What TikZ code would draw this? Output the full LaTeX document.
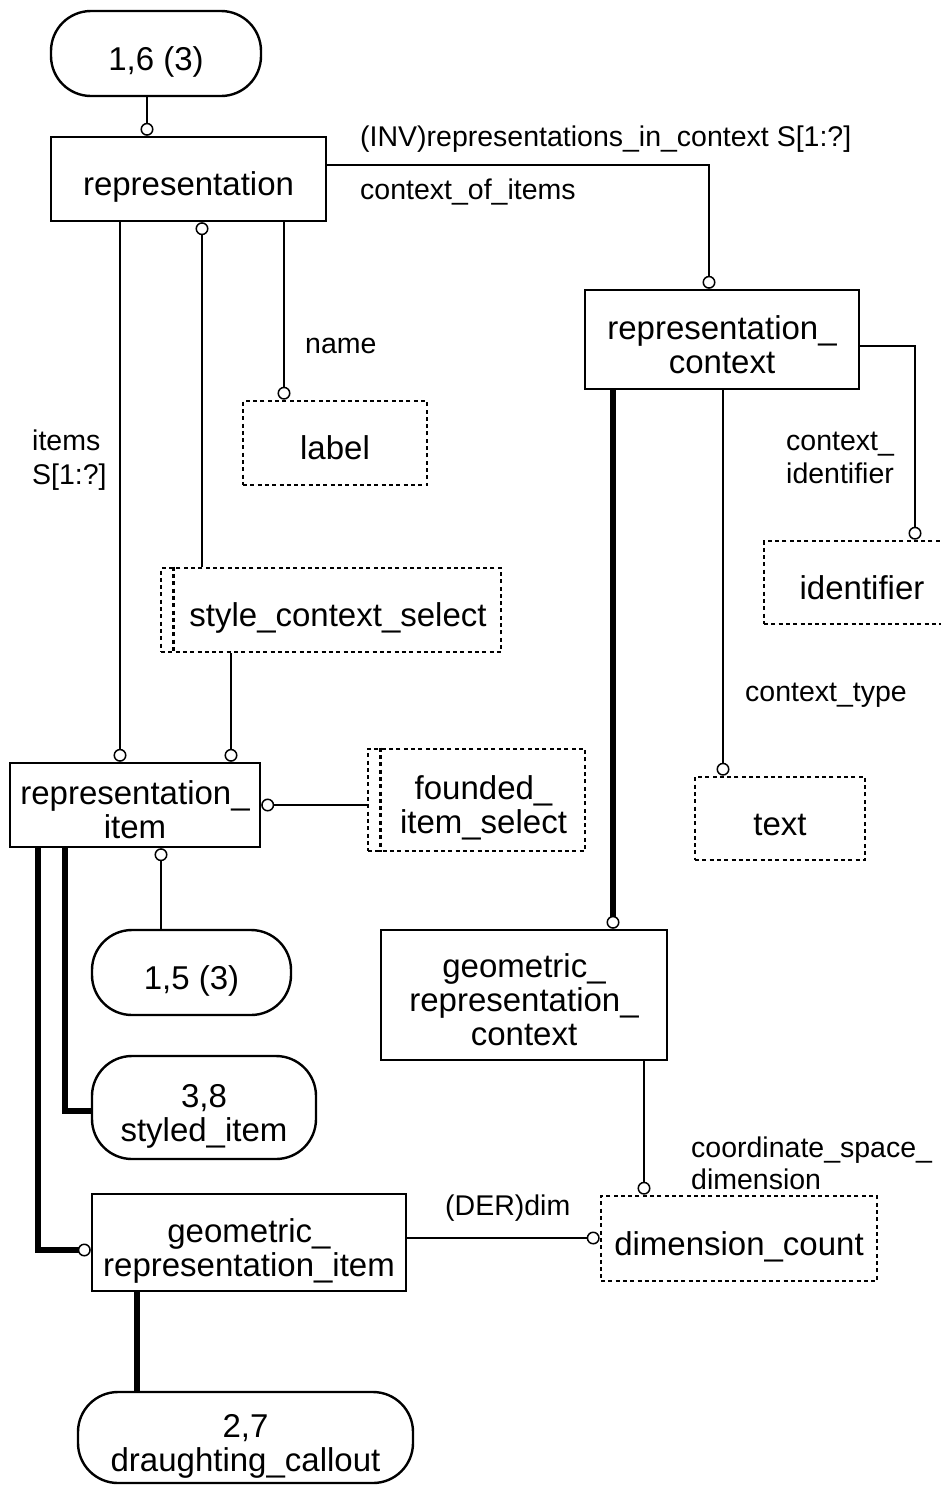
\documentclass[tikz,border=0pt]{standalone}
\usepackage{fontspec}
\setmainfont{Liberation Sans}
\usetikzlibrary{arrows.meta}
\newcommand\bxfont{\fontsize{33}{34}\selectfont}
\newcommand\lbfont{\fontsize{28.5}{33}\selectfont}
\newcommand\mlc[1]{\vtop{\baselineskip=34pt\halign{\hfil##\hfil\cr#1\crcr}}}
\newcommand\mll[2]{\vtop{\baselineskip=#1\halign{##\hfil\cr#2\crcr}}}
\tikzset{oc/.tip={Circle[length=13pt, width=13pt, fill=white, line width=1.5pt]}}
\begin{document}
\begin{tikzpicture}[x=1pt,y=-1pt,
  ent/.style={draw, line width=2.4pt, inner sep=0pt, font=\bxfont},
  dsh/.style={draw, line width=2.6pt, dash pattern=on 4pt off 3.3pt},
  sel/.style={ent, dsh},
  pil/.style={ent, rounded corners=40pt},
  l1/.style={text height=33pt, text depth=0pt},
  l2/.style={text height=20pt, text depth=21pt},
  l3/.style={text height=10pt, text depth=45pt},
  conn/.style={line width=2pt},
  thk/.style={line width=6.5pt},
  lab/.style={font=\lbfont, anchor=base west, inner sep=0pt}
]
\useasboundingbox (0,0) rectangle (940,1486);

% entities
\node[pil,l1,minimum width=210pt,minimum height=85pt] (p16) at (156,53.5) {1,6 (3)};
\node[ent,l1,minimum width=275pt,minimum height=84pt] (rep) at (188.5,179) {representation};
\node[ent,l2,minimum width=274pt,minimum height=99pt] (repctx) at (722,339.5) {\mlc{representation\_\cr context}};
\node[sel,l1,minimum width=184pt,minimum height=84pt] (lbl) at (335,443) {label};
\node[sel,l1,minimum width=340pt,minimum height=84pt] (scs) at (331,610) {\kern14pt style\_context\_select};
\node[sel,l1,minimum width=196pt,minimum height=83pt] (ident) at (862,582.5) {identifier};
\node[sel,l1,minimum width=170pt,minimum height=83pt] (txt) at (780,818.5) {text};
\node[ent,l2,minimum width=250pt,minimum height=84pt] (ritem) at (135,805) {\mlc{representation\_\cr item}};
\node[sel,l2,minimum width=217pt,minimum height=102pt] (fis) at (476.5,800) {\kern14pt\mlc{founded\_\cr item\_select}};
\node[pil,l1,minimum width=199pt,minimum height=85pt] (p15) at (191.5,972.5) {1,5 (3)};
\node[ent,l3,minimum width=286pt,minimum height=130pt] (grc) at (524,995) {\mlc{geometric\_\cr representation\_\cr context}};
\node[pil,l2,minimum width=224pt,minimum height=103pt] (p38) at (204,1107.5) {\mlc{3,8\cr styled\_item}};
\node[ent,l2,minimum width=314pt,minimum height=97pt] (gri) at (249,1242.5) {\mlc{geometric\_\cr representation\_item}};
\node[sel,l1,minimum width=276pt,minimum height=85pt] (dimc) at (739,1238.5) {dimension\_count};
\node[pil,l2,minimum width=335pt,minimum height=91pt] (p27) at (245.5,1437.5) {\mlc{2,7\cr draughting\_callout}};

% select-type inner lines
\draw[dsh] ([xshift=14pt]scs.north west) -- ([xshift=14pt]scs.south west);
\draw[dsh] ([xshift=14pt]fis.north west) -- ([xshift=14pt]fis.south west);

% connectors
\draw[conn,-{oc}] ([xshift=-9pt]p16.south) coordinate (c1) -- (c1 |- rep.north);
\draw[conn,-{oc}] ([yshift=14pt]rep.east) -| ([xshift=-13pt]repctx.north);
\draw[conn,-{oc}] ([xshift=-68.5pt]rep.south) coordinate (c2) -- (c2 |- ritem.north);
\draw[conn,{oc}-] ([xshift=13.5pt]rep.south) coordinate (c3) -- (c3 |- scs.north);
\draw[conn,-{oc}] ([xshift=95.5pt]rep.south) coordinate (c4) -- (c4 |- lbl.north);
\draw[conn,-{oc}] ([xshift=-100pt]scs.south) coordinate (c5) -- (c5 |- ritem.north);
\draw[conn,{oc}-] (ritem.east) -- (ritem.east -| fis.west);
\draw[conn,{oc}-] ([xshift=26pt]ritem.south) coordinate (c6) -- (c6 |- p15.north);
\draw[thk] ([xshift=-70pt]ritem.south) |- ([yshift=-3.5pt]p38.west);
\draw[thk,-{oc}] ([xshift=-97pt]ritem.south) |- ([yshift=-7.5pt]gri.west);
\draw[thk] ([xshift=-112pt]gri.south) coordinate (c7) -- (c7 |- p27.north);
\draw[conn,-{oc}] ([yshift=4.5pt]gri.east) coordinate (c8) -- (c8 -| dimc.west);
\draw[thk,-{oc}] ([xshift=-109pt]repctx.south) coordinate (c9) -- (c9 |- grc.north);
\draw[conn,-{oc}] ([xshift=1pt]repctx.south) coordinate (c10) -- (c10 |- txt.north);
\draw[conn,-{oc}] ([yshift=-6.5pt]repctx.east) -| ([xshift=53pt]ident.north);
\draw[conn,-{oc}] ([xshift=120pt]grc.south) coordinate (c11) -- (c11 |- dimc.north);

% role labels
\node[lab] (t1) at (360,146) {(INV)representations\_in\_context S[1:?]};
\node[lab] (t2) at (360,199) {context\_of\_items};
\node[lab] (t3) at (305,353) {name};
\node[lab] (t4) at (32,450) {\mll{34pt}{items\cr S[1:?]}};
\node[lab] (t5) at (786,450) {\mll{33pt}{context\_\cr identifier}};
\node[lab] (t6) at (745,701) {context\_type};
\node[lab] (t7) at (445,1215) {(DER)dim};
\node[lab] (t8) at (691,1157) {\mll{32pt}{coordinate\_space\_\cr dimension}};
\end{tikzpicture}
\end{document}
